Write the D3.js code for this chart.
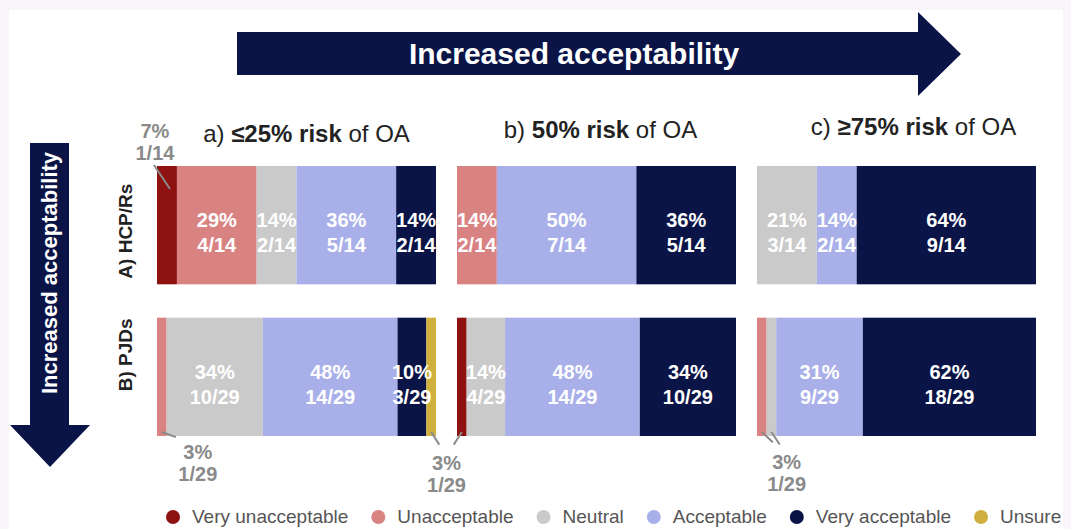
<!DOCTYPE html>
<html>
<head>
<meta charset="utf-8">
<script src="https://cdn.jsdelivr.net/npm/d3@7"></script>
<style>
  html, body { margin: 0; padding: 0; background: #f8f6f8; }
  svg { display: block; font-family: "Liberation Sans", Arial, sans-serif; }
</style>
</head>
<body>
<svg id="chart" width="1071" height="529"></svg>
<script>
// ---------- DATA ----------
const categories = ["Very unacceptable", "Unacceptable", "Neutral", "Acceptable", "Very acceptable", "Unsure"];
const categoryColors = ["#8e1212", "#d98282", "#cacaca", "#a9b0e9", "#0b1446", "#cfb03e"];
const panels = ["a", "b", "c"];
const panelRisk = ["≤25% risk", "50% risk", "≥75% risk"];
const groups = ["A) HCP/Rs", "B) PJDs"];
const groupN = [14, 29];
// counts per panel, order follows categories
const countsHCP = [[1, 4, 2, 5, 2, 0], [0, 2, 0, 7, 5, 0], [0, 0, 3, 2, 9, 0]];
const countsPJD = [[0, 1, 10, 14, 3, 1], [1, 0, 4, 14, 10, 0], [0, 1, 1, 9, 18, 0]];
const arrowText = "Increased acceptability";

// ---------- DRAW ----------
const svg = d3.select("#chart");
svg.append("rect").attr("x", 9).attr("y", 10).attr("width", 1054).attr("height", 519).attr("fill", "#ffffff");

const navy = "#0b1446";
// top arrow
svg.append("path")
  .attr("d", d3.line()([[237, 32], [918, 32], [918, 12], [961, 54], [918, 96], [918, 75], [237, 75]]) + "Z")
  .attr("fill", navy);
svg.append("text").attr("x", 574).attr("y", 64).attr("text-anchor", "middle")
  .attr("fill", "#fff").attr("font-weight", "bold").attr("font-size", 30).text(arrowText);
// left arrow
svg.append("path")
  .attr("d", d3.line()([[30, 143], [69, 143], [69, 425], [90, 425], [50, 467], [10, 425], [30, 425]]) + "Z")
  .attr("fill", navy);
svg.append("text").attr("transform", "translate(57,273) rotate(-90)").attr("text-anchor", "middle")
  .attr("fill", "#fff").attr("font-weight", "bold").attr("font-size", 22).text(arrowText);

// scales
const xPanel = d3.scaleBand().domain(panels).range([157, 1036]).paddingInner(0.07);
const yRow = d3.scaleBand().domain(groups).range([166, 436]).paddingInner(0.22);

// row labels
groups.forEach((g, i) => {
  const cy = yRow(g) + yRow.bandwidth() / 2 + (i === 0 ? 6 : -22);
  svg.append("text").attr("transform", `translate(132,${cy}) rotate(-90)`).attr("text-anchor", "middle")
    .attr("fill", "#222").attr("font-weight", "bold").attr("font-size", 19).text(g);
});

// panel titles
const titleBase = [142, 138, 135];
const titleShift = [10, 4, 17];
panels.forEach((p, i) => {
  const t = svg.append("text").attr("x", xPanel(p) + xPanel.bandwidth() / 2 + titleShift[i])
    .attr("y", titleBase[i]).attr("text-anchor", "middle").attr("font-size", 24).attr("fill", "#222");
  t.append("tspan").text(p + ")");
  t.append("tspan").attr("font-weight", "bold").text(" " + panelRisk[i]);
  t.append("tspan").text(" of OA");
});

// build segments
const allCounts = [countsHCP, countsPJD];
const segs = [];
groups.forEach((g, gi) => {
  const n = groupN[gi];
  panels.forEach((p, pi) => {
    const x = d3.scaleLinear().domain([0, n]).range([xPanel(p), xPanel(p) + xPanel.bandwidth()]);
    let cum = 0;
    allCounts[gi][pi].forEach((c, ci) => {
      if (c > 0) {
        segs.push({ gi, pi, ci, c, n, x0: x(cum), x1: x(cum + c), y0: yRow(g), y1: yRow(g) + yRow.bandwidth() });
      }
      cum += c;
    });
  });
});

svg.append("g").selectAll("rect").data(segs).join("rect")
  .attr("x", d => d.x0).attr("y", d => d.y0)
  .attr("width", d => d.x1 - d.x0).attr("height", d => d.y1 - d.y0)
  .attr("fill", d => categoryColors[d.ci]);

// inside labels (wide enough segments)
const isInside = d => d.c / d.n > 0.08;
const inside = segs.filter(isInside);
const lab = svg.append("g").selectAll("text").data(inside).join("text")
  .attr("text-anchor", "middle").attr("fill", "#fff").attr("font-weight", "bold").attr("font-size", 20);
lab.append("tspan").attr("x", d => (d.x0 + d.x1) / 2).attr("y", d => (d.y0 + d.y1) / 2 + 2)
  .text(d => Math.round(d.c / d.n * 100) + "%");
lab.append("tspan").attr("x", d => (d.x0 + d.x1) / 2).attr("y", d => (d.y0 + d.y1) / 2 + 27)
  .text(d => d.c + "/" + d.n);

// callouts for small segments
const small = segs.filter(d => !isInside(d));
const grey = "#8a8a8a";
function seg(gi, pi, ci) { return small.find(d => d.gi === gi && d.pi === pi && d.ci === ci); }
const calloutGroups = [
  { items: [seg(0, 0, 0)], dx: -12, above: true },
  { items: [seg(1, 0, 1)], dx: 36, dy: 23 },
  { items: [seg(1, 0, 5), seg(1, 1, 0)], dx: 0, dy: 34 },
  { items: [seg(1, 2, 1), seg(1, 2, 2)], dx: 20, dy: 33 }
];
const cg = svg.append("g");
calloutGroups.forEach(g => {
  const items = g.items.filter(Boolean);
  if (!items.length) return;
  const cx = d3.mean(items, d => (d.x0 + d.x1) / 2);
  const tx = cx + g.dx;
  const d0 = items[0];
  let b1, b2;
  if (g.above) {
    b1 = d0.y0 - 28; b2 = d0.y0 - 6;
    items.forEach(d => {
      const sx = (d.x0 + d.x1) / 2;
      cg.append("line").attr("x1", sx - 13).attr("y1", d.y0 - 1).attr("x2", sx + 3).attr("y2", d.y0 + 23)
        .attr("stroke", grey).attr("stroke-width", 2);
    });
  } else {
    b1 = d0.y1 + g.dy; b2 = b1 + 22;
    items.forEach(d => {
      const sx = (d.x0 + d.x1) / 2, sy = d.y1 - 4;
      const vx = tx - sx, vy = (b1 - 14) - sy, L = Math.hypot(vx, vy);
      cg.append("line").attr("x1", sx).attr("y1", sy).attr("x2", sx + vx / L * 15).attr("y2", sy + vy / L * 15)
        .attr("stroke", grey).attr("stroke-width", 2);
    });
  }
  const t = cg.append("text").attr("text-anchor", "middle").attr("fill", grey).attr("font-weight", "bold").attr("font-size", 20);
  t.append("tspan").attr("x", tx).attr("y", b1).text(Math.round(d0.c / d0.n * 100) + "%");
  t.append("tspan").attr("x", tx).attr("y", b2).text(d0.c + "/" + d0.n);
});

// legend
const leg = svg.append("g");
let lx = 173;
categories.forEach((c, i) => {
  leg.append("circle").attr("cx", lx).attr("cy", 517).attr("r", 7).attr("fill", categoryColors[i]);
  const t = leg.append("text").attr("x", lx + 19).attr("y", 523).attr("font-size", 19).attr("fill", "#555").text(c);
  lx += 19 + t.node().getComputedTextLength() + 30;
});
</script>
</body>
</html>
